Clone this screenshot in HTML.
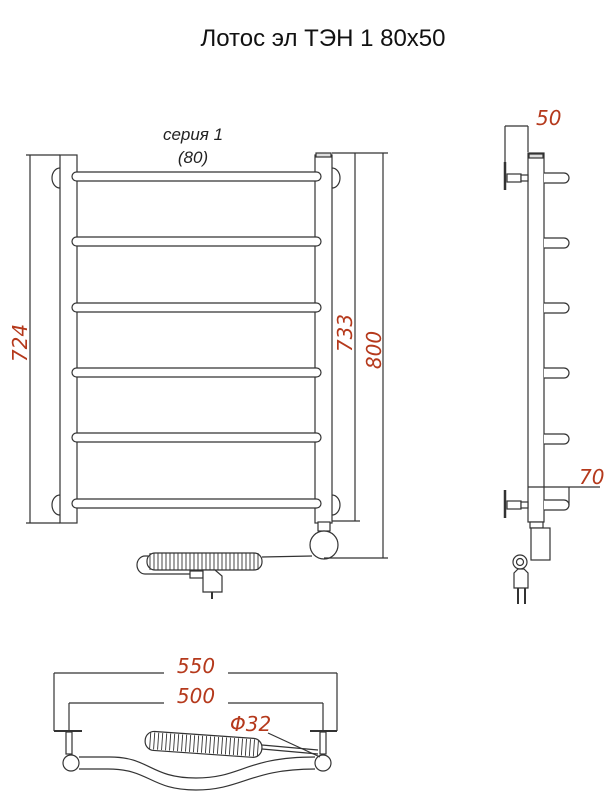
<!DOCTYPE html>
<html><head><meta charset="utf-8"><style>
body{margin:0;background:#fff;}
svg{display:block;}
.t{font-family:"Liberation Sans","DejaVu Sans",sans-serif;}
.r{fill:#b5391c;font-family:"DejaVu Sans","Liberation Sans",sans-serif;font-style:italic;font-size:20px;}
</style></head><body>
<svg width="615" height="796" viewBox="0 0 615 796" xmlns="http://www.w3.org/2000/svg">
<g fill="none" stroke="#333" stroke-width="1.2">
<text x="323" y="46" class="t" font-size="24" fill="#111" stroke="none" text-anchor="middle" font-weight="normal">Лотос эл ТЭН 1 80х50</text>
<text x="193" y="140" class="t" font-size="17" font-style="italic" fill="#222" stroke="none" text-anchor="middle">серия 1</text>
<text x="193" y="163" class="t" font-size="17" font-style="italic" fill="#222" stroke="none" text-anchor="middle">(80)</text>

<rect x="60" y="155" width="17" height="368" fill="#fff"/>
<rect x="315" y="155" width="17" height="368" fill="#fff"/>
<rect x="316" y="153" width="15" height="4" fill="#ddd"/>
<path d="M60 168 A8 10 0 0 0 60 188"/><path d="M60 495 A8 10 0 0 0 60 515"/>
<path d="M332 168 A8 10 0 0 1 332 188"/><path d="M332 495 A8 10 0 0 1 332 515"/>
<g fill="#fff">
<rect x="72" y="172" width="249" height="9" rx="4.5"/>
<rect x="72" y="237" width="249" height="9" rx="4.5"/>
<rect x="72" y="303" width="249" height="9" rx="4.5"/>
<rect x="72" y="368" width="249" height="9" rx="4.5"/>
<rect x="72" y="433" width="249" height="9" rx="4.5"/>
<rect x="72" y="499" width="249" height="9" rx="4.5"/>
</g>
<rect x="318" y="522" width="12" height="9" fill="#fff"/>
<circle cx="324" cy="545" r="14" fill="#fff"/>
<line x1="262" y1="557" x2="312" y2="556"/>
<rect x="147" y="553" width="115" height="17" rx="8" fill="#fff"/>
<path d="M150 553 v17 M154 553 v17 M158 553 v17 M162 553 v17 M166 553 v17 M170 553 v17 M174 553 v17 M178 553 v17 M182 553 v17 M186 553 v17 M190 553 v17 M194 553 v17 M198 553 v17 M202 553 v17 M206 553 v17 M210 553 v17 M214 553 v17 M218 553 v17 M222 553 v17 M226 553 v17 M230 553 v17 M234 553 v17 M238 553 v17 M242 553 v17 M246 553 v17 M250 553 v17 M254 553 v17 M258 553 v17" stroke-width="0.9"/>
<path d="M148 556 H145 A8 9 0 0 0 145 574 H192"/>
<rect x="190" y="571" width="13" height="7" fill="#fff"/>
<path d="M203 570 H215 L222 576 V592 H203 Z" fill="#fff"/>
<line x1="212" y1="592" x2="212" y2="599" stroke-width="2"/>

<line x1="30" y1="155" x2="30" y2="523"/>
<line x1="26" y1="155" x2="60" y2="155"/><line x1="26" y1="523" x2="60" y2="523"/>
<line x1="355" y1="153" x2="355" y2="521"/>
<line x1="332" y1="153" x2="360" y2="153"/><line x1="332" y1="521" x2="360" y2="521"/>
<line x1="383" y1="153" x2="383" y2="558"/>
<line x1="360" y1="153" x2="388" y2="153"/><line x1="324" y1="558" x2="388" y2="558"/>
<text class="r" transform="translate(27,343) rotate(-90)" text-anchor="middle" stroke="none">724</text>
<text class="r" transform="translate(352,333) rotate(-90)" text-anchor="middle" stroke="none">733</text>
<text class="r" transform="translate(381,350) rotate(-90)" text-anchor="middle" stroke="none">800</text>

<rect x="528" y="153" width="16" height="369" fill="#fff"/>
<rect x="529" y="154" width="14" height="4" fill="#ddd"/>
<g fill="#fff">
<path d="M544 173 H564 A5 5 0 0 1 564 183 H544"/>
<path d="M544 238 H564 A5 5 0 0 1 564 248 H544"/>
<path d="M544 303 H564 A5 5 0 0 1 564 313 H544"/>
<path d="M544 368 H564 A5 5 0 0 1 564 378 H544"/>
<path d="M544 434 H564 A5 5 0 0 1 564 444 H544"/>
<path d="M544 500 H564 A5 5 0 0 1 564 510 H544"/>
<rect x="507" y="174" width="14" height="8"/><rect x="521" y="175" width="7" height="6"/>
<rect x="507" y="501" width="14" height="8"/><rect x="521" y="502" width="7" height="6"/>
</g>
<line x1="505" y1="162" x2="505" y2="190" stroke-width="2.5"/>
<line x1="505" y1="490" x2="505" y2="518" stroke-width="2.5"/>
<line x1="505" y1="126" x2="505" y2="162"/><line x1="528" y1="126" x2="528" y2="152"/>
<line x1="505" y1="126" x2="528" y2="126"/>
<text class="r" x="536" y="125" stroke="none">50</text>
<line x1="528" y1="487" x2="600" y2="487"/><line x1="569" y1="487" x2="569" y2="505"/>
<text class="r" x="579" y="484" stroke="none">70</text>
<rect x="530" y="522" width="13" height="6" fill="#fff"/>
<rect x="531" y="528" width="19" height="32" fill="#fff"/>
<circle cx="520" cy="562" r="7" fill="#fff"/><circle cx="520" cy="562" r="3.5"/>
<path d="M514 573 L518 569 H524 L528 573 V588 H514 Z" fill="#fff"/>
<line x1="518" y1="588" x2="518" y2="604" stroke-width="2"/><line x1="525" y1="588" x2="525" y2="604" stroke-width="2"/>

<line x1="54" y1="673" x2="337" y2="673"/>
<line x1="54" y1="673" x2="54" y2="731"/><line x1="337" y1="673" x2="337" y2="731"/>
<line x1="69" y1="703" x2="323" y2="703"/>
<line x1="69" y1="703" x2="69" y2="731"/><line x1="323" y1="703" x2="323" y2="731"/>
<rect x="164" y="655" width="64" height="22" fill="#fff" stroke="none"/>
<rect x="164" y="685" width="64" height="22" fill="#fff" stroke="none"/>
<text class="r" x="196" y="673" text-anchor="middle" stroke="none">550</text>
<text class="r" x="196" y="703" text-anchor="middle" stroke="none">500</text>
<line x1="54" y1="731" x2="82" y2="731" stroke-width="2"/><line x1="310" y1="731" x2="337" y2="731" stroke-width="2"/>
<rect x="66" y="732" width="6" height="22" fill="#fff"/><rect x="320" y="732" width="6" height="22" fill="#fff"/>
<path d="M79 757 H110 C150 757 150 778 196 778 C242 778 245 757 315 757"/>
<path d="M79 769 H108 C150 769 150 790 196 790 C242 790 250 769 315 769"/>
<circle cx="71" cy="763" r="8" fill="#fff"/>
<circle cx="323" cy="763" r="8" fill="#fff"/>
<line x1="262" y1="745" x2="318" y2="750"/><line x1="262" y1="749" x2="318" y2="754"/>
<line x1="268" y1="733" x2="320" y2="757"/>
<g transform="rotate(4 205 745)">
<rect x="145" y="735" width="117" height="19" rx="9" fill="#fff"/>
<path d="M150 736 v17 M154 736 v17 M158 736 v17 M162 736 v17 M166 736 v17 M170 736 v17 M174 736 v17 M178 736 v17 M182 736 v17 M186 736 v17 M190 736 v17 M194 736 v17 M198 736 v17 M202 736 v17 M206 736 v17 M210 736 v17 M214 736 v17 M218 736 v17 M222 736 v17 M226 736 v17 M230 736 v17 M234 736 v17 M238 736 v17 M242 736 v17 M246 736 v17 M250 736 v17 M254 736 v17 M258 736 v17" stroke-width="0.9"/>
</g>
<text class="r" x="230" y="731" stroke="none">Φ32</text>
</g>
</svg>
</body></html>
